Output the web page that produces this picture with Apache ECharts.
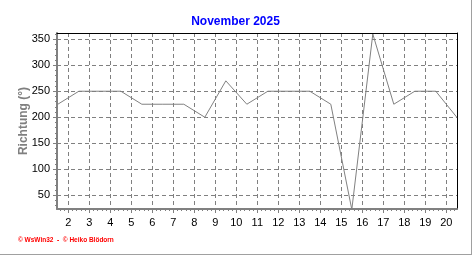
<!DOCTYPE html>
<html>
<head>
<meta charset="utf-8">
<script src="https://cdn.jsdelivr.net/npm/echarts@6/dist/echarts.min.js"></script>
<style>
html,body{margin:0;padding:0;background:#fff;}
#c{width:472px;height:255px;box-sizing:border-box;border-right:1px solid #a0a0a0;border-bottom:1px solid #a0a0a0;}
</style>
</head>
<body>
<div id="c"></div>
<script>
// Data: daily mean wind direction (plotted at day midpoints)
var dayPositions = [1.5, 2.5, 3.5, 4.5, 5.5, 6.5, 7.5, 8.5, 9.5, 10.5, 11.5, 12.5, 13.5, 14.5, 15.5, 16.5, 17.5, 18.5, 19.5, 20.5];
var direction    = [225, 250, 250, 250, 225, 225, 225, 200, 270, 225, 250, 250, 250, 225, 22.5, 360, 225, 250, 250, 200];
var xTickLabels  = [2, 3, 4, 5, 6, 7, 8, 9, 10, 11, 12, 13, 14, 15, 16, 17, 18, 19, 20];
var yTickLabels  = [50, 100, 150, 200, 250, 300, 350];
var titleText = 'November 2025';
var yName = 'Richtung (°)';
var footerText = '© WsWin32  -  © Heiko Blödorn';

var xMinor = [];
for (var i = 8; i <= 102; i++) { var v = i / 5; if (v > 1.46 && v < 20.51) xMinor.push(v); }
var yMinor = [];
for (var j = 30; j <= 360; j += 10) yMinor.push(j);

var seriesData = dayPositions.map(function (x, k) { return [x, direction[k]]; });

var XMIN = 1.46, XMAX = 20.51, YMIN = 23.5, YMAX = 362;
var FONT = 'Liberation Sans';
var gridDash = {show: true, lineStyle: {color: '#808080', type: [4, 3], width: 1}};

var chart = echarts.init(document.getElementById('c'), null, {renderer: 'canvas'});
chart.setOption({
  animation: false,
  backgroundColor: '#ffffff',
  title: {
    text: titleText, left: 'center', top: 11,
    textStyle: {color: '#0000ff', fontFamily: FONT, fontWeight: 'bold', fontSize: 12}
  },
  grid: {left: 57, top: 33, width: 400, height: 176, containLabel: false},
  xAxis: [
    {
      type: 'value', position: 'bottom', min: XMIN, max: XMAX,
      axisLine: {show: true, onZero: false, lineStyle: {color: '#808080', width: 2}},
      axisTick: {show: true, length: 4, customValues: xTickLabels, lineStyle: {color: '#808080'}},
      axisLabel: {show: true, customValues: xTickLabels, margin: 8, color: '#000', fontFamily: FONT, fontSize: 11},
      splitLine: gridDash
    },
    {
      type: 'value', position: 'bottom', min: XMIN, max: XMAX,
      axisLine: {show: false, onZero: false},
      axisTick: {show: true, length: 2, customValues: xMinor, lineStyle: {color: '#808080'}},
      axisLabel: {show: false}, splitLine: {show: false}
    },
    {
      type: 'value', position: 'top', min: XMIN, max: XMAX,
      axisLine: {show: true, onZero: false, lineStyle: {color: '#000', width: 1}},
      axisTick: {show: false}, axisLabel: {show: false}, splitLine: {show: false}
    }
  ],
  yAxis: [
    {
      type: 'value', position: 'left', min: YMIN, max: YMAX,
      name: yName, nameLocation: 'middle', nameGap: 27, nameRotate: 90, nameMoveOverlap: false,
      nameTextStyle: {color: '#808080', fontFamily: FONT, fontWeight: 'bold', fontSize: 12},
      axisLine: {show: true, onZero: false, lineStyle: {color: '#808080', width: 2}},
      axisTick: {show: true, length: 4, customValues: yTickLabels, lineStyle: {color: '#808080'}},
      axisLabel: {show: true, customValues: yTickLabels, margin: 7, color: '#000', fontFamily: FONT, fontSize: 11},
      splitLine: gridDash
    },
    {
      type: 'value', position: 'left', min: YMIN, max: YMAX,
      axisLine: {show: false, onZero: false},
      axisTick: {show: true, length: 2, customValues: yMinor, lineStyle: {color: '#808080'}},
      axisLabel: {show: false}, splitLine: {show: false}
    },
    {
      type: 'value', position: 'right', min: YMIN, max: YMAX,
      axisLine: {show: true, onZero: false, lineStyle: {color: '#000', width: 1}},
      axisTick: {show: false}, axisLabel: {show: false}, splitLine: {show: false}
    }
  ],
  series: [{
    type: 'line', xAxisIndex: 0, yAxisIndex: 0, data: seriesData,
    showSymbol: false, symbol: 'none', clip: true,
    lineStyle: {color: '#808080', width: 1}
  }],
  graphic: [{
    type: 'text', left: 18, top: 237,
    style: {text: footerText, fill: '#ff0000', font: 'bold 6.5px "Liberation Sans"'}
  }]
});
</script>
</body>
</html>
